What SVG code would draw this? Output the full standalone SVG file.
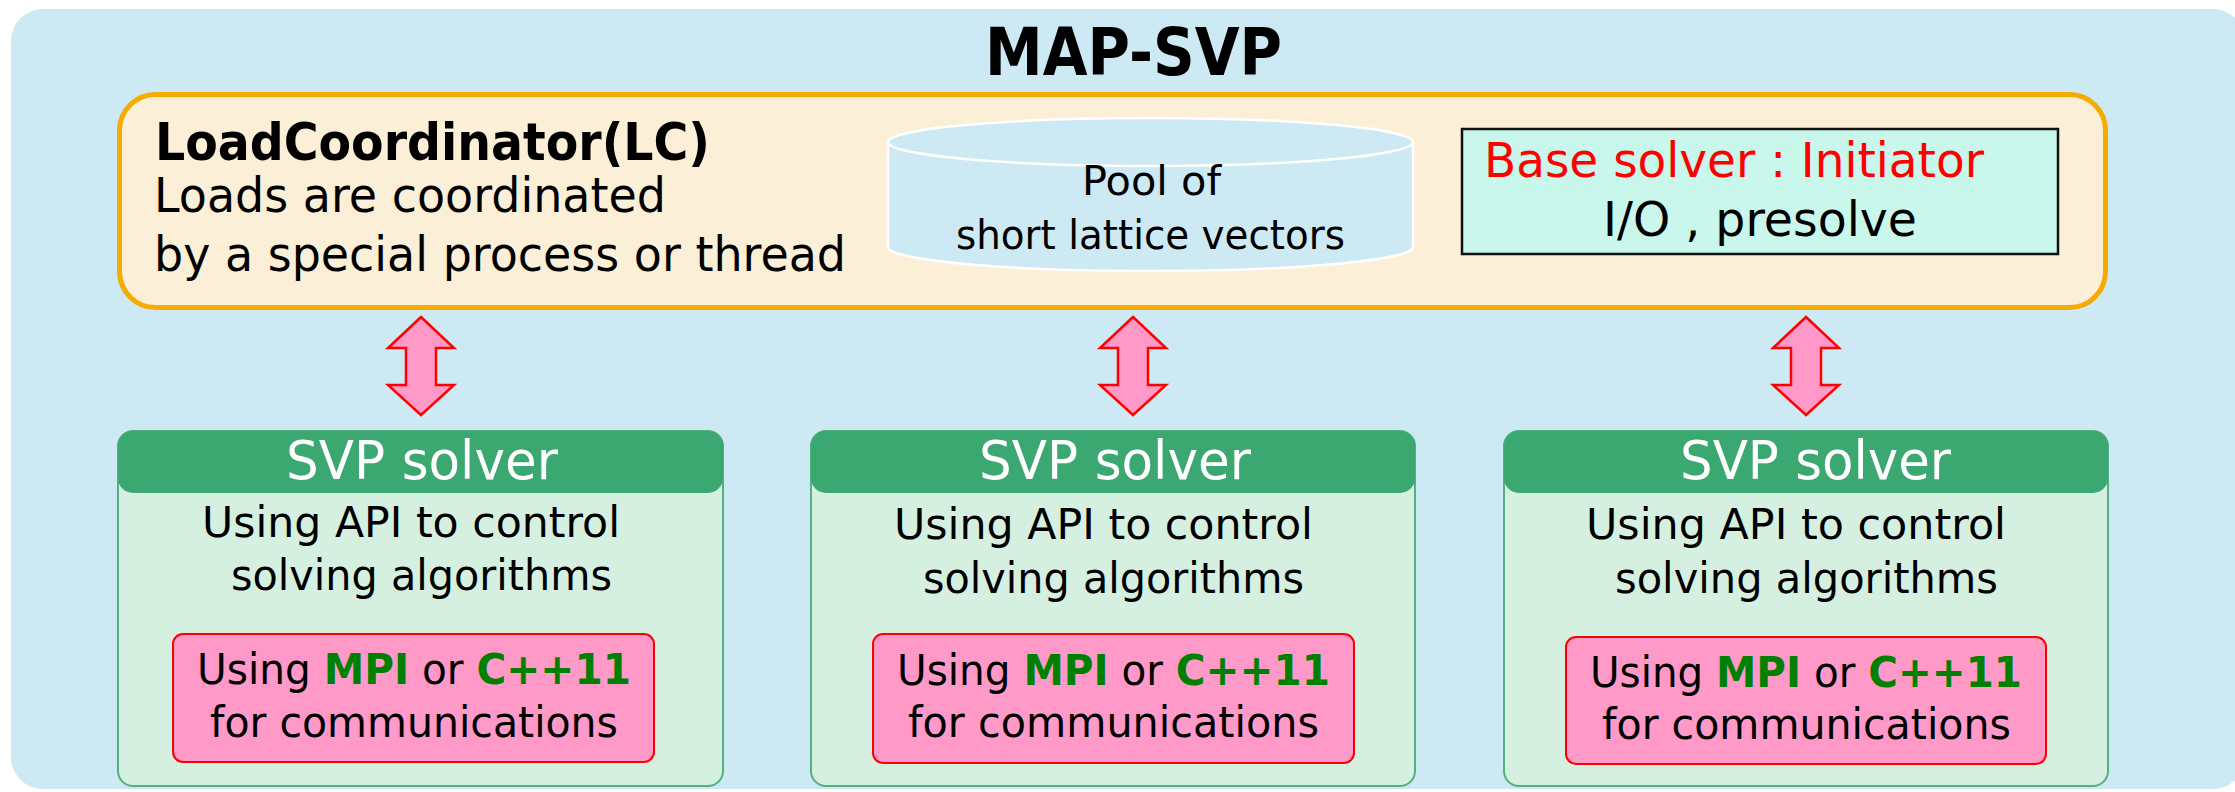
<svg xmlns="http://www.w3.org/2000/svg" width="2235" height="792" viewBox="0 0 2235 792">
  <style>
    text { font-family: "DejaVu Sans", "Liberation Sans", sans-serif; fill: #000; }
    .b { font-weight: bold; }
    .title { font-size: 66px; font-weight: bold; }
    .lcHead { font-size: 52px; font-weight: bold; }
    .lcBody { font-size: 48px; }
    .pool { font-size: 40px; }
    .base { font-size: 48px; }
    .red { fill: #ff0000; }
    .svpHead { font-size: 53px; fill: #ffffff; }
    .svpBody { font-size: 42px; }
    .grn { fill: #008000; font-weight: bold; }
    .solverBody { fill: #d5f0e1; stroke: #55b07f; stroke-width: 2; }
    .solverHead { fill: #3aa870; }
    .comm { fill: #ff99c8; stroke: #ff0000; stroke-width: 2; }
    .link { fill: #ff99c8; stroke: #ff0000; stroke-width: 2.5; stroke-linejoin: miter; }
  </style>
  <defs>
    <path id="dblArrow" d="M0,317 L33,348 L15,348 L15,385 L33,385 L0,415 L-33,385 L-15,385 L-15,348 L-33,348 Z"/>
  </defs>

  <!-- background panel -->
  <rect x="11" y="9" width="2234" height="780" rx="32" fill="#cde9f4"/>
  <text class="title" x="985" y="75" textLength="297" lengthAdjust="spacingAndGlyphs">MAP-SVP</text>

  <!-- load coordinator -->
  <g id="load-coordinator">
    <rect x="119.5" y="94.5" width="1986" height="213" rx="36" fill="#fbefd7" stroke="#f5ab00" stroke-width="5"/>
    <text class="lcHead" x="155" y="160" textLength="555" lengthAdjust="spacingAndGlyphs">LoadCoordinator(LC)</text>
    <text class="lcBody" x="154" y="212" textLength="512" lengthAdjust="spacingAndGlyphs">Loads are coordinated</text>
    <text class="lcBody" x="154" y="271" textLength="692" lengthAdjust="spacingAndGlyphs">by a special process or thread</text>
  </g>

  <!-- vector pool cylinder -->
  <g id="pool">
    <path d="M888,142 L888,247 A262.5,24 0 0 0 1413,247 L1413,142" fill="#cde9f4" stroke="#ffffff" stroke-width="2.5"/>
    <ellipse cx="1150.5" cy="142" rx="262.5" ry="24" fill="#cde9f4" stroke="#ffffff" stroke-width="2.5"/>
    <text class="pool" x="1082" y="195" textLength="139" lengthAdjust="spacingAndGlyphs">Pool of</text>
    <text class="pool" x="956" y="249" textLength="389" lengthAdjust="spacingAndGlyphs">short lattice vectors</text>
  </g>

  <!-- base solver -->
  <g id="base-solver">
    <rect x="1462" y="129" width="596" height="125" fill="#c9f7ec" stroke="#111111" stroke-width="2.5"/>
    <text class="base red" x="1484" y="177" textLength="500" lengthAdjust="spacingAndGlyphs">Base solver : Initiator</text>
    <text class="base" x="1603" y="236" textLength="314" lengthAdjust="spacingAndGlyphs">I/O , presolve</text>
  </g>

  <!-- links between the coordinator and the solvers -->
  <g id="connectors">
    <use href="#dblArrow" class="link" transform="translate(421,0)"/>
    <use href="#dblArrow" class="link" transform="translate(1133,0)"/>
    <use href="#dblArrow" class="link" transform="translate(1806,0)"/>
  </g>

  <!-- SVP solvers -->
  <g id="svp-solver-1">
    <rect class="solverBody" x="118" y="431" width="605" height="355" rx="15"/>
    <rect class="solverHead" x="118" y="431" width="605" height="62" rx="15"/>
    <text class="svpHead" x="286" y="479" textLength="272" lengthAdjust="spacingAndGlyphs">SVP solver</text>
    <text class="svpBody" x="202" y="537" textLength="418" lengthAdjust="spacingAndGlyphs">Using API to control</text>
    <text class="svpBody" x="231" y="590" textLength="381" lengthAdjust="spacingAndGlyphs">solving algorithms</text>
    <rect class="comm" x="173" y="634" width="481" height="128" rx="10"/>
    <text class="svpBody" x="197" y="684" textLength="434" lengthAdjust="spacingAndGlyphs">Using <tspan class="grn">MPI</tspan> or <tspan class="grn">C++11</tspan></text>
    <text class="svpBody" x="210" y="737" textLength="408" lengthAdjust="spacingAndGlyphs">for communications</text>
  </g>

  <g id="svp-solver-2">
    <rect class="solverBody" x="811" y="431" width="604" height="355" rx="15"/>
    <rect class="solverHead" x="811" y="431" width="604" height="62" rx="15"/>
    <text class="svpHead" x="979" y="479" textLength="272" lengthAdjust="spacingAndGlyphs">SVP solver</text>
    <text class="svpBody" x="894" y="539" textLength="419" lengthAdjust="spacingAndGlyphs">Using API to control</text>
    <text class="svpBody" x="923" y="593" textLength="381" lengthAdjust="spacingAndGlyphs">solving algorithms</text>
    <rect class="comm" x="873" y="634" width="481" height="129" rx="10"/>
    <text class="svpBody" x="897" y="685" textLength="433" lengthAdjust="spacingAndGlyphs">Using <tspan class="grn">MPI</tspan> or <tspan class="grn">C++11</tspan></text>
    <text class="svpBody" x="908" y="737" textLength="411" lengthAdjust="spacingAndGlyphs">for communications</text>
  </g>

  <g id="svp-solver-3">
    <rect class="solverBody" x="1504" y="431" width="604" height="355" rx="15"/>
    <rect class="solverHead" x="1504" y="431" width="604" height="62" rx="15"/>
    <text class="svpHead" x="1680" y="479" textLength="271" lengthAdjust="spacingAndGlyphs">SVP solver</text>
    <text class="svpBody" x="1586" y="539" textLength="420" lengthAdjust="spacingAndGlyphs">Using API to control</text>
    <text class="svpBody" x="1615" y="593" textLength="383" lengthAdjust="spacingAndGlyphs">solving algorithms</text>
    <rect class="comm" x="1566" y="637" width="480" height="127" rx="10"/>
    <text class="svpBody" x="1590" y="687" textLength="432" lengthAdjust="spacingAndGlyphs">Using <tspan class="grn">MPI</tspan> or <tspan class="grn">C++11</tspan></text>
    <text class="svpBody" x="1602" y="739" textLength="409" lengthAdjust="spacingAndGlyphs">for communications</text>
  </g>
</svg>
